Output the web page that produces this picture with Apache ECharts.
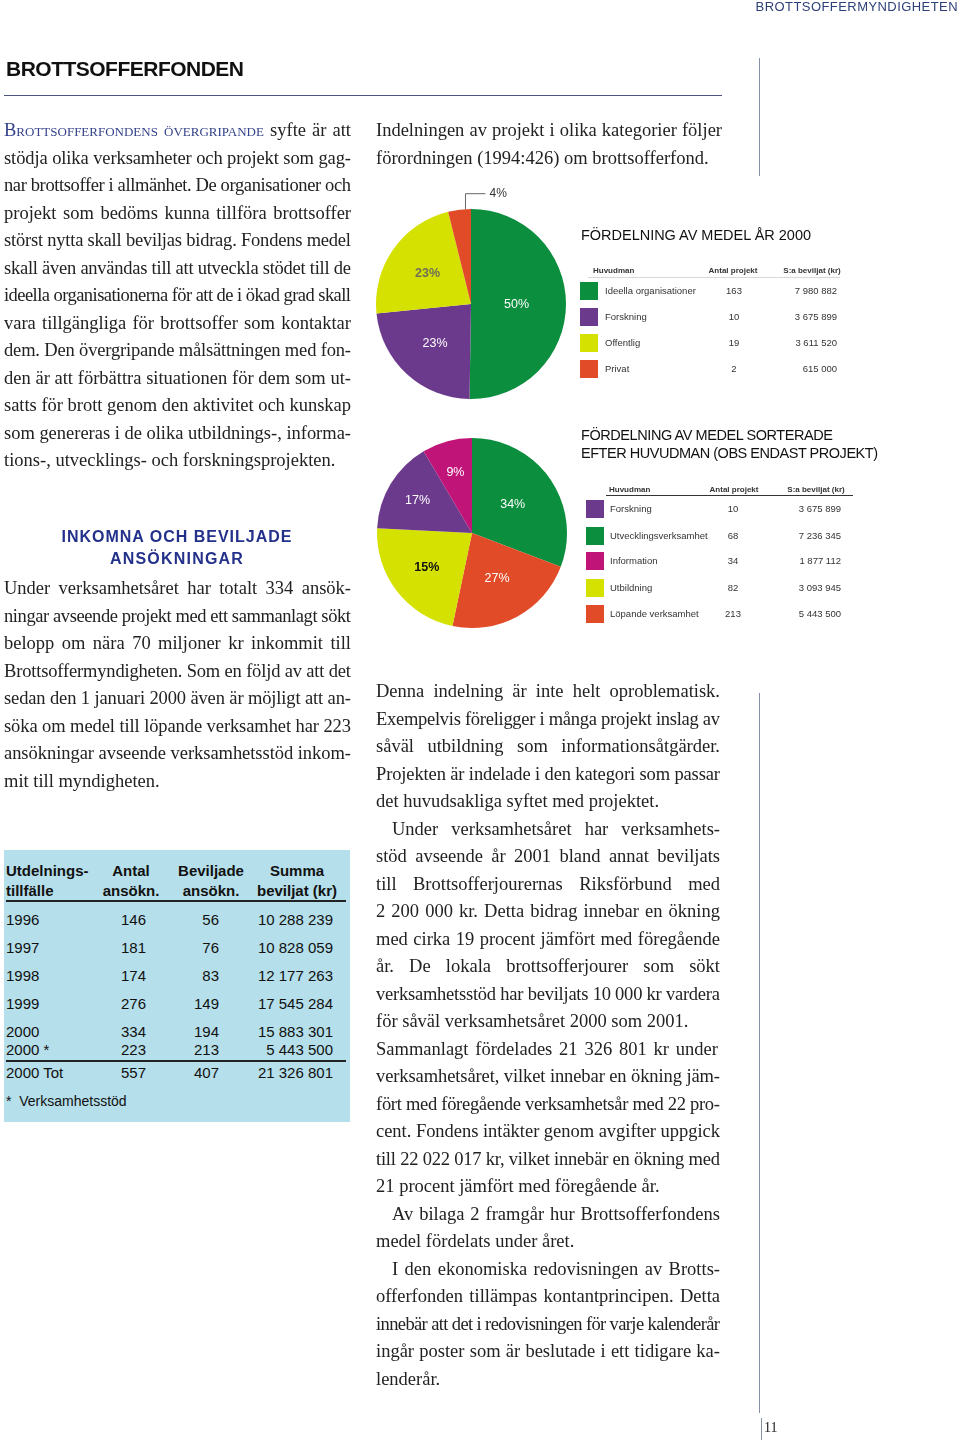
<!DOCTYPE html>
<html><head><meta charset="utf-8">
<script src="https://cdn.jsdelivr.net/npm/echarts@6/dist/echarts.min.js"></script>
<style>
html,body{margin:0;padding:0;background:#fff;}
#page{position:relative;width:960px;height:1440px;overflow:hidden;background:#fff;}
#chart{position:absolute;left:0;top:0;width:960px;height:1440px;}
.t{position:absolute;white-space:nowrap;}
.serif{font-family:"Liberation Serif","Times New Roman",serif;font-size:18.5px;color:#222;}
.sans{font-family:"Liberation Sans",Arial,Helvetica,sans-serif;}
.sc{font-variant:small-caps;color:#34428a;}
.rule{position:absolute;}
</style></head>
<body><div id="page"><div id="chart"></div></div>
<script>
// ---------------- DATA ----------------
const pie1Categories = ['Ideella organisationer', 'Forskning', 'Offentlig', 'Privat'];
const pie1Projects = ['163', '10', '19', '2'];
const pie1Amounts = [7980882, 3675899, 3611520, 615000];
const pie1AmountText = ['7 980 882', '3 675 899', '3 611 520', '615 000'];
const pie1Colors = ['#0b8e3d', '#6c3a8c', '#d5e100', '#e14b27'];

// second pie, in drawing order (clockwise from 12 o'clock), shares as drawn
const pie2Categories = ['Utvecklingsverksamhet', 'Löpande verksamhet', 'Utbildning', 'Forskning', 'Information'];
const pie2Shares = [30.8, 22.5, 22.5, 15.7, 8.5];
const pie2LabelText = ['34%', '27%', '15%', '17%', '9%'];
const pie2Colors = ['#0b8e3d', '#e14b27', '#d5e100', '#6c3a8c', '#c01478'];

// second legend table (its own order)
const leg2Categories = ['Forskning', 'Utvecklingsverksamhet', 'Information', 'Utbildning', 'Löpande verksamhet'];
const leg2Projects = ['10', '68', '34', '82', '213'];
const leg2AmountText = ['3 675 899', '7 236 345', '1 877 112', '3 093 945', '5 443 500'];
const leg2Colors = ['#6c3a8c', '#0b8e3d', '#c01478', '#d5e100', '#e14b27'];

// application table
const tabYears = ['1996', '1997', '1998', '1999', '2000', '2000 *', '2000 Tot'];
const tabApplied = ['146', '181', '174', '276', '334', '223', '557'];
const tabGranted = ['56', '76', '83', '149', '194', '213', '407'];
const tabSum = ['10 288 239', '10 828 059', '12 177 263', '17 545 284', '15 883 301', '5 443 500', '21 326 801'];

// ---------------- TEXT ----------------
const para1 = [
  '<span class="sc">Brottsofferfondens övergripande</span> syfte är att',
  'stödja olika verksamheter och projekt som gag-',
  'nar brottsoffer i allmänhet. De organisationer och',
  'projekt som bedöms kunna tillföra brottsoffer',
  'störst nytta skall beviljas bidrag. Fondens medel',
  'skall även användas till att utveckla stödet till de',
  'ideella organisationerna för att de i ökad grad skall',
  'vara tillgängliga för brottsoffer som kontaktar',
  'dem. Den övergripande målsättningen med fon-',
  'den är att förbättra situationen för dem som ut-',
  'satts för brott genom den aktivitet och kunskap',
  'som genereras i de olika utbildnings-, informa-',
  'tions-, utvecklings- och forskningsprojekten.|'
];
const para2 = [
  'Under verksamhetsåret har totalt 334 ansök-',
  'ningar avseende projekt med ett sammanlagt sökt',
  'belopp om nära 70 miljoner kr inkommit till',
  'Brottsoffermyndigheten. Som en följd av att det',
  'sedan den 1 januari 2000 även är möjligt att an-',
  'söka om medel till löpande verksamhet har 223',
  'ansökningar avseende verksamhetsstöd inkom-',
  'mit till myndigheten.|'
];
const para3 = [
  'Indelningen av projekt i olika kategorier följer',
  'förordningen (1994:426) om brottsofferfond.|'
];
const para4 = [
  'Denna indelning är inte helt oproblematisk.',
  'Exempelvis föreligger i många projekt inslag av',
  'såväl utbildning som informationsåtgärder.',
  'Projekten är indelade i den kategori som passar',
  'det huvudsakliga syftet med projektet.|',
  '^Under verksamhetsåret har verksamhets-',
  'stöd avseende år 2001 bland annat beviljats',
  'till Brottsofferjourernas Riksförbund med',
  '2 200 000 kr. Detta bidrag innebar en ökning',
  'med cirka 19 procent jämfört med föregående',
  'år. De lokala brottsofferjourer som sökt',
  'verksamhetsstöd har beviljats 10 000 kr vardera',
  'för såväl verksamhetsåret 2000 som 2001.|',
  'Sammanlagt fördelades  21 326 801 kr under',
  'verksamhetsåret, vilket innebar en ökning jäm-',
  'fört med föregående verksamhetsår med 22 pro-',
  'cent. Fondens intäkter genom avgifter uppgick',
  'till 22 022 017 kr, vilket innebär en ökning med',
  '21 procent jämfört med föregående år.|',
  '^Av bilaga 2 framgår hur Brottsofferfondens',
  'medel fördelats under året.|',
  '^I den ekonomiska redovisningen av Brotts-',
  'offerfonden tillämpas kontantprincipen. Detta',
  'innebär att det i redovisningen för varje kalenderår',
  'ingår poster som är beslutade i ett tidigare ka-',
  'lenderår.|'
];

const page = document.getElementById('page');
const LH = 27.5;

function para(lines, x, firstCenter, W) {
  lines.forEach((raw, i) => {
    let s = raw, indent = 0, last = false;
    if (s.startsWith('^')) { s = s.slice(1); indent = 16; }
    if (s.endsWith('|')) { s = s.slice(0, -1); last = true; }
    const d = document.createElement('div');
    d.className = 't serif';
    d.style.left = (x + indent) + 'px';
    d.style.top = (firstCenter - LH / 2 + i * LH) + 'px';
    d.style.lineHeight = LH + 'px';
    const sp = document.createElement('span');
    sp.innerHTML = s;
    d.appendChild(sp);
    page.appendChild(d);
    const w = sp.getBoundingClientRect().width;
    const avail = W - indent;
    const nSp = (sp.textContent.match(/ /g) || []).length;
    if (w > avail) {
      const n = sp.textContent.length - 1;
      sp.style.letterSpacing = ((avail - w) / n) + 'px';
    } else if (!last && nSp > 0) {
      sp.style.wordSpacing = ((avail - w) / nSp) + 'px';
    }
  });
}

function put(text, x, yc, o) {
  o = o || {};
  const d = document.createElement('div');
  d.className = 't ' + (o.cls || 'sans');
  const size = o.size || 12;
  d.style.fontSize = size + 'px';
  d.style.lineHeight = Math.round(size * 1.3) + 'px';
  d.style.top = (yc - Math.round(size * 1.3) / 2) + 'px';
  d.style.color = o.color || '#222';
  if (o.weight) d.style.fontWeight = o.weight;
  if (o.ls != null) d.style.letterSpacing = o.ls + 'px';
  d.innerHTML = text;
  page.appendChild(d);
  if (o.w) {
    const w = d.getBoundingClientRect().width;
    const n = d.textContent.length - 1;
    const cur = parseFloat(d.style.letterSpacing || '0') || 0;
    d.style.letterSpacing = (cur + (o.w - w) / n) + 'px';
  }
  const w = d.getBoundingClientRect().width;
  const al = o.align || 'left';
  let left = x;
  if (al === 'center') left = x - w / 2;
  if (al === 'right') left = x - w;
  d.style.left = left + 'px';
  return d;
}

function rule(x, y, w, h, color) {
  const r = document.createElement('div');
  r.className = 'rule';
  r.style.left = x + 'px'; r.style.top = y + 'px';
  r.style.width = w + 'px'; r.style.height = h + 'px';
  r.style.background = color;
  page.appendChild(r);
  return r;
}

// header + title
put('BROTTSOFFERMYNDIGHETEN', 958, 6, {size: 13, color: '#2c3f78', w: 202, align: 'right'});
put('BROTTSOFFERFONDEN', 6, 68, {size: 21, weight: 'bold', color: '#111', w: 238});
rule(4, 94.5, 718, 1.5, '#4a5680');
rule(758.5, 58, 1, 118, '#8890a8');
rule(758.5, 693, 1, 720, '#8890a8');
rule(761, 1418, 1, 22, '#8890a8');
put('11', 764, 1428, {cls: 'serif', size: 14, color: '#222'});

// body text
para(para1, 4, 131, 347);
put('INKOMNA OCH BEVILJADE', 177, 536, {size: 16, weight: 'bold', color: '#23318a', w: 230, align: 'center'});
put('ANSÖKNINGAR', 177, 558, {size: 16, weight: 'bold', color: '#23318a', w: 133, align: 'center'});
para(para2, 4, 589, 347);
para(para3, 376, 131, 346);
para(para4, 376, 692, 344);

// application table
rule(4, 850, 346, 272, '#b5dfea');
const TF = 15;
put('Utdelnings-', 6, 871, {size: TF, weight: 'bold', color: '#111'});
put('tillfälle', 6, 891, {size: TF, weight: 'bold', color: '#111'});
put('Antal', 131, 871, {size: TF, weight: 'bold', color: '#111', align: 'center'});
put('ansökn.', 131, 891, {size: TF, weight: 'bold', color: '#111', align: 'center'});
put('Beviljade', 211, 871, {size: TF, weight: 'bold', color: '#111', align: 'center'});
put('ansökn.', 211, 891, {size: TF, weight: 'bold', color: '#111', align: 'center'});
put('Summa', 297, 871, {size: TF, weight: 'bold', color: '#111', align: 'center'});
put('beviljat (kr)', 297, 891, {size: TF, weight: 'bold', color: '#111', align: 'center'});
rule(6, 900, 340, 2, '#222');
const rowY = [920, 948, 976, 1004, 1032, 1050, 1073];
tabYears.forEach((yr, i) => {
  put(yr, 6, rowY[i], {size: TF, color: '#111'});
  put(tabApplied[i], 146, rowY[i], {size: TF, color: '#111', align: 'right'});
  put(tabGranted[i], 219, rowY[i], {size: TF, color: '#111', align: 'right'});
  put(tabSum[i], 333, rowY[i], {size: TF, color: '#111', align: 'right'});
});
rule(6, 1060, 340, 1.5, '#222');
put('*&nbsp; Verksamhetsstöd', 6, 1101, {size: 14, color: '#111'});

// legend table 1
put('FÖRDELNING AV MEDEL ÅR 2000', 581, 235, {size: 14.5, color: '#111', w: 230});
put('Huvudman', 593, 271, {size: 8, weight: 'bold', color: '#333'});
put('Antal projekt', 733, 271, {size: 8, weight: 'bold', color: '#333', align: 'center'});
put('S:a beviljat (kr)', 812, 271, {size: 8, weight: 'bold', color: '#333', align: 'center'});
rule(588, 277, 252, 1, '#d8d8d8');
const l1Y = [291, 317, 343, 369];
pie1Categories.forEach((c, i) => {
  rule(580, l1Y[i] - 9, 18, 18, pie1Colors[i]);
  put(c, 605, l1Y[i], {size: 9.5, color: '#333'});
  put(pie1Projects[i], 734, l1Y[i], {size: 9.5, color: '#333', align: 'center'});
  put(pie1AmountText[i], 837, l1Y[i], {size: 9.5, color: '#333', align: 'right'});
});

// legend table 2
put('FÖRDELNING AV MEDEL SORTERADE', 581, 435, {size: 14.5, color: '#111', w: 252});
put('EFTER HUVUDMAN (OBS ENDAST PROJEKT)', 581, 453, {size: 14.5, color: '#111', w: 297});
put('Huvudman', 609, 490, {size: 8, weight: 'bold', color: '#333'});
put('Antal projekt', 734, 490, {size: 8, weight: 'bold', color: '#333', align: 'center'});
put('S:a beviljat (kr)', 816, 490, {size: 8, weight: 'bold', color: '#333', align: 'center'});
rule(606, 495, 247, 1, '#333');
const l2Y = [509, 536, 561, 588, 614];
leg2Categories.forEach((c, i) => {
  rule(586, l2Y[i] - 9, 18, 18, leg2Colors[i]);
  put(c, 610, l2Y[i], {size: 9.5, color: '#333'});
  put(leg2Projects[i], 733, l2Y[i], {size: 9.5, color: '#333', align: 'center'});
  put(leg2AmountText[i], 841, l2Y[i], {size: 9.5, color: '#333', align: 'right'});
});

// ---------------- CHARTS ----------------
const R = 95;
const c1 = [471, 304], c2 = [472, 533];
const lab1R = [0.48, 0.56, 0.56, null];
const lab2R = [0.52, 0.55, 0.6, 0.67, 0.66];
function placeLabel(p, c, fr) {
  const f = fr[p.dataIndex];
  if (f == null) {
    const pts = p.labelLinePoints;
    if (!pts) return {};
    const a = pts[0];
    const ax = a[0] + 6;
    return {x: ax + 24, y: a[1] - 16, align: 'left', verticalAlign: 'middle',
      labelLinePoints: [[ax, a[1]], [ax, a[1] - 16], [ax + 20, a[1] - 16]]};
  }
  const r = p.labelRect;
  const lx = r.x + r.width / 2, ly = r.y + r.height / 2;
  const dx = lx - c[0], dy = ly - c[1];
  const d = Math.hypot(dx, dy) || 1;
  const k = f * R / d;
  return {x: c[0] + dx * k, y: c[1] + dy * k, align: 'center', verticalAlign: 'middle'};
}
const FONT = '"Liberation Sans", Arial, sans-serif';
const chart = echarts.init(document.getElementById('chart'), null, {renderer: 'canvas'});
chart.setOption({
  animation: false,
  series: [
    {
      type: 'pie', center: c1, radius: R, startAngle: 90, clockwise: true, silent: true,
      avoidLabelOverlap: false,
      label: {show: true, position: 'inside', formatter: p => Math.round(p.percent) + '%', fontFamily: FONT, fontSize: 12.5, color: '#fff'},
      labelLine: {show: false},
      labelLayout: p => placeLabel(p, c1, lab1R),
      data: pie1Categories.map((n, i) => {
        const item = {name: n, value: pie1Amounts[i], itemStyle: {color: pie1Colors[i]}};
        if (i === 2) item.label = {color: '#6f6f58', fontWeight: 'bold'};
        if (i === 3) {
          item.label = {position: 'outside', color: '#333', fontSize: 12};
          item.labelLine = {show: true, length: 10, length2: 10, lineStyle: {color: '#666', width: 1}};
        }
        return item;
      })
    },
    {
      type: 'pie', center: c2, radius: R, startAngle: 90, clockwise: true, silent: true,
      avoidLabelOverlap: false,
      label: {show: true, position: 'inside', formatter: p => pie2LabelText[p.dataIndex], fontFamily: FONT, fontSize: 12.5, color: '#fff'},
      labelLine: {show: false},
      labelLayout: p => placeLabel(p, c2, lab2R),
      data: pie2Categories.map((n, i) => {
        const item = {name: n, value: pie2Shares[i], itemStyle: {color: pie2Colors[i]}};
        if (i === 2) item.label = {color: '#111', fontWeight: 'bold'};
        return item;
      })
    }
  ]
});
</script>
</body></html>
